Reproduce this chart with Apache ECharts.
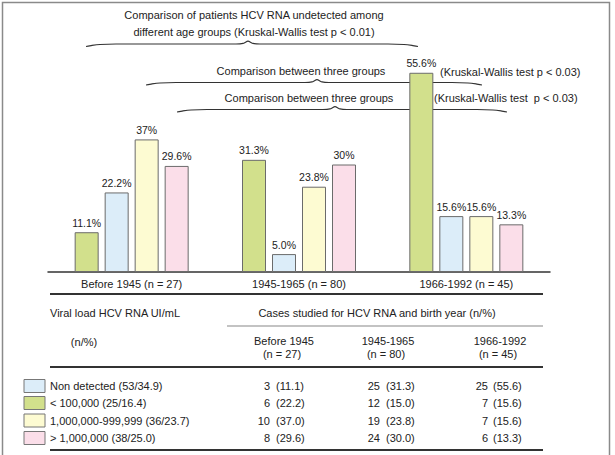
<!DOCTYPE html>
<html>
<head>
<meta charset="utf-8">
<title>HCV RNA viral load by birth year</title>
<script src="https://cdn.jsdelivr.net/npm/echarts@6/dist/echarts.min.js"></script>
</head>
<body style="margin:0;background:#fff">
<div id="main" style="width:615px;height:455px;"></div>
<script type="text/javascript">
// age groups on the x axis
var groups = ['Before 1945 (n = 27)', '1945-1965 (n = 80)', '1966-1992 (n = 45)'];
// bar heights (%), in the order the bars stand in each group
var greenVals = [11.1, 31.3, 55.6];
var blueVals = [22.2, 5.0, 15.6];
var yellowVals = [37, 23.8, 15.6];
var pinkVals = [29.6, 30, 13.3];
// labels as printed over the bars
var greenLabels = ['11.1%', '31.3%', '55.6%'];
var blueLabels = ['22.2%', '5.0%', '15.6%'];
var yellowLabels = ['37%', '23.8%', '15.6%'];
var pinkLabels = ['29.6%', '30%', '13.3%'];

// table under the chart
var colHeads = ['Before 1945', '1945-1965', '1966-1992'];
var colN = ['(n = 27)', '(n = 80)', '(n = 45)'];
var loadNames = ['Non detected (53/34.9)', '< 100,000 (25/16.4)', '1,000,000-999,999 (36/23.7)', '> 1,000,000 (38/25.0)'];
var tableN = [[3, 25, 25], [6, 12, 7], [10, 19, 7], [8, 24, 6]];
var tablePct = [['11.1', '31.3', '55.6'], ['22.2', '15.0', '15.6'], ['37.0', '23.8', '15.6'], ['29.6', '30.0', '13.3']];

var GREEN = '#d2e08c', BLUE = '#dcedf9', YELLOW = '#fdfbd2', PINK = '#fbdee9';
var swatchColors = [BLUE, GREEN, YELLOW, PINK];
var FONT = '"Liberation Sans", Arial, sans-serif';
var FS = 11;
var INK = '#222';

var myChart = echarts.init(document.getElementById('main'), null, {renderer: 'svg'});

function barSeries(name, vals, labels, color) {
    return {
        name: name,
        type: 'bar',
        data: vals,
        barWidth: 24,
        barGap: '25%',
        itemStyle: {color: color, borderColor: '#6b6b6b', borderWidth: 1},
        label: {
            show: true, position: 'top', distance: 4,
            fontSize: 10.5, fontFamily: FONT, color: INK,
            formatter: function (p) { return labels[p.dataIndex]; }
        }
    };
}

// curly brace, point up in the middle
function bracePath(x0, x1, xm, y) {
    var pts = [[x0, y + 2.5], [x0 + 6, y + 1.4], [x0 + 14, y + 0.5], [x0 + 30, y], [xm - 12, y], [xm - 5, y - 0.6], [xm, y - 2.8],
        [xm + 5, y - 0.6], [xm + 12, y], [x1 - 30, y], [x1 - 14, y + 0.5], [x1 - 6, y + 1.4], [x1, y + 2.5]];
    return {type: 'polyline', z: 0, silent: true, shape: {points: pts, smooth: 0.2},
        style: {fill: 'none', stroke: '#333', lineWidth: 1.2}};
}

function txt(s, x, y, align) {
    return {
        type: 'text', z: 10, silent: true,
        style: {text: s, x: x, y: y, font: FS + 'px ' + FONT, fill: INK,
            align: align || 'left', verticalAlign: 'middle'}
    };
}
function hline(x0, x1, y, w, c) {
    return {type: 'line', z: 10, silent: true, shape: {x1: x0, y1: y, x2: x1, y2: y},
        style: {stroke: c || '#333', lineWidth: w}};
}

var graphics = [
    {type: 'rect', z: 0, silent: true, shape: {x: 2.5, y: 2.5, width: 607, height: 470},
        style: {fill: 'none', stroke: '#8a8a8a', lineWidth: 1.5}},
    txt('Comparison of patients HCV RNA undetected among', 254, 15, 'center'),
    txt('different age groups (Kruskal-Wallis test p < 0.01)', 254, 32, 'center'),
    bracePath(86, 418, 248, 44),
    txt('Comparison between three groups', 301, 71, 'center'),
    txt('(Kruskal-Wallis test p < 0.03)', 440, 72),
    bracePath(146, 482, 317, 82.5),
    txt('Comparison between three groups', 309, 98, 'center'),
    txt('(Kruskal-Wallis test  p < 0.03)', 434, 98),
    bracePath(177, 507, 335, 109.5),
    // table
    hline(50, 543, 294, 2),
    txt('Viral load HCV RNA UI/mL', 50, 313),
    txt('Cases studied for HCV RNA and birth year (n/%)', 377, 313, 'center'),
    hline(227, 543, 326, 1.2, '#888'),
    txt('(n/%)', 84, 342, 'center'),
    hline(50, 543, 367, 2),
    hline(50, 543, 450, 2)
];
var colCenters = [284, 388, 500];
var nRight = [270, 380, 488];
var pctLeft = [276, 386, 493];
var rowY = [386, 403, 420.5, 438];
for (var c = 0; c < 3; c++) {
    graphics.push(txt(colHeads[c], colCenters[c], 341, 'center'));
    graphics.push(txt(colN[c], colCenters[c] - 2, 354, 'center'));
}
for (var r = 0; r < loadNames.length; r++) {
    graphics.push({type: 'rect', z: 10, silent: true,
        shape: {x: 24, y: rowY[r] - 6.5, width: 21, height: 13},
        style: {fill: swatchColors[r], stroke: '#777', lineWidth: 1}});
    graphics.push(txt(loadNames[r], 50, rowY[r]));
    for (var k = 0; k < 3; k++) {
        graphics.push(txt(String(tableN[r][k]), nRight[k], rowY[r], 'right'));
        graphics.push(txt('(' + tablePct[r][k] + ')', pctLeft[k], rowY[r]));
    }
}

var option = {
    animation: false,
    backgroundColor: '#fff',
    grid: {left: 48, right: 65, top: 57, bottom: 183},
    xAxis: {
        type: 'category',
        data: groups,
        axisTick: {show: false},
        axisLine: {lineStyle: {color: '#333', width: 1.5}},
        axisLabel: {fontSize: FS, fontFamily: FONT, color: INK, margin: 6}
    },
    yAxis: {
        type: 'value', min: 0, max: 60,
        show: false, splitLine: {show: false}
    },
    series: [
        barSeries(loadNames[1], greenVals, greenLabels, GREEN),
        barSeries(loadNames[0], blueVals, blueLabels, BLUE),
        barSeries(loadNames[2], yellowVals, yellowLabels, YELLOW),
        barSeries(loadNames[3], pinkVals, pinkLabels, PINK)
    ],
    graphic: graphics
};
myChart.setOption(option);
</script>
</body>
</html>
